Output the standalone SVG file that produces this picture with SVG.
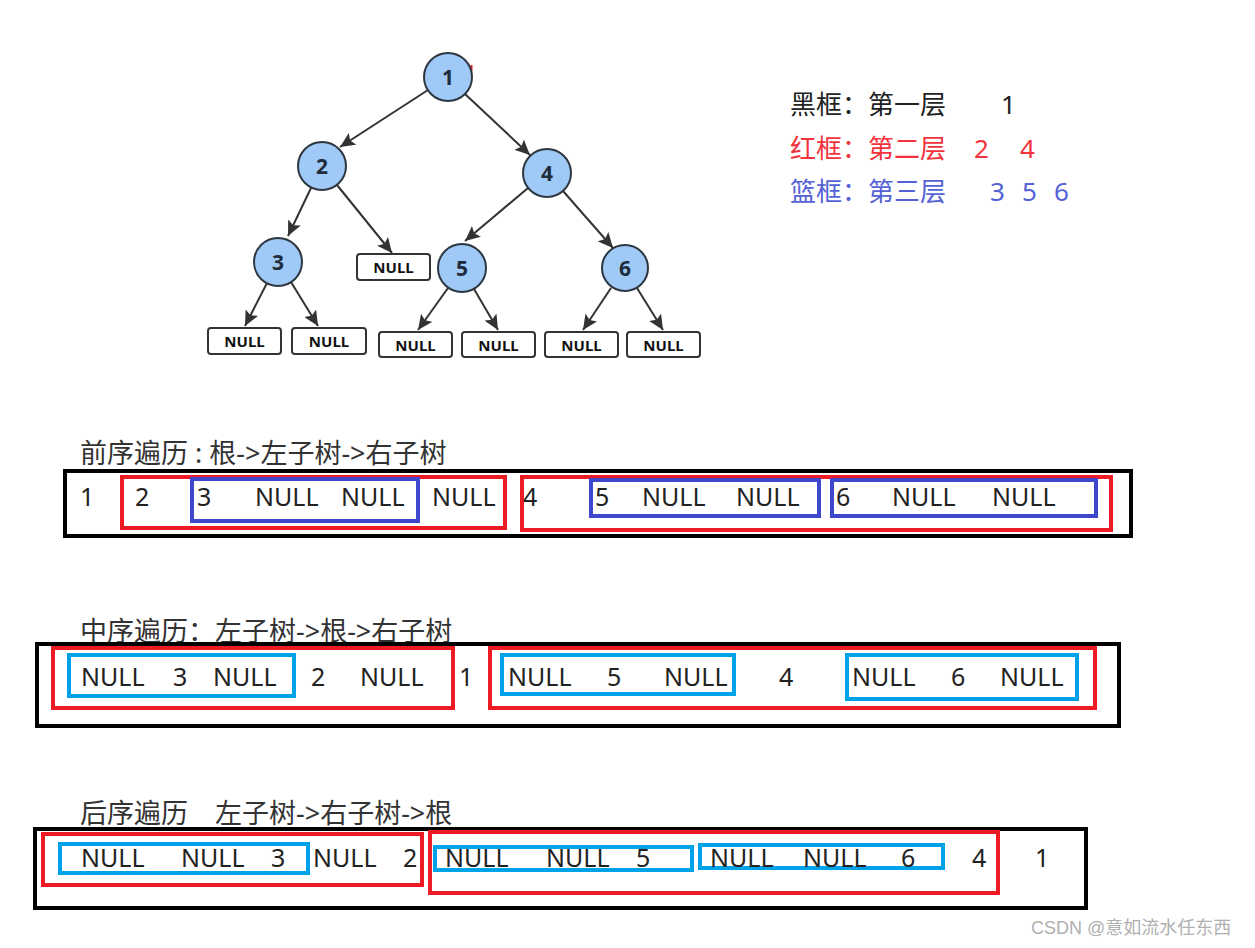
<svg xmlns="http://www.w3.org/2000/svg" width="1255" height="948" viewBox="0 0 1255 948">
<defs>
<marker id="arr" markerUnits="userSpaceOnUse" markerWidth="16" markerHeight="14" refX="15" refY="7" orient="auto">
<path d="M0,0 L15,7 L0,14 L3,7 z" fill="#333"/>
</marker>
<style>
.edge{stroke:#333;stroke-width:2;fill:none;marker-end:url(#arr)}
.circ{fill:#9fcaf7;stroke:#2e3640;stroke-width:2}
.nl{font-family:"Noto Sans","DejaVu Sans",sans-serif;font-weight:bold;font-size:21px;fill:#1e2c3c;text-anchor:middle}
.nbox{fill:#fff;stroke:#333;stroke-width:2}
.nt{font-family:"Noto Sans","DejaVu Sans",sans-serif;font-weight:bold;font-size:15px;fill:#111;text-anchor:middle}
.lg{font-family:"Noto Sans","Noto Sans CJK SC",sans-serif;font-size:26px}
.tt{font-family:"Noto Sans","Noto Sans CJK SC",sans-serif;font-size:27px;fill:#333}
.rt{font-family:"Noto Sans","Noto Sans CJK SC",sans-serif;font-size:25px;fill:#222}
.bk{fill:none;stroke:#000;stroke-width:4}
.rd{fill:none;stroke:#ed1c24;stroke-width:4}
.bl{fill:none;stroke:#3f48cc;stroke-width:4}
.cy{fill:none;stroke:#00a2e8;stroke-width:4}
</style>
</defs>
<rect width="1255" height="948" fill="#fff"/>

<g id="connectors">
<line class="edge" x1="428" y1="90" x2="340" y2="147"/>
<line class="edge" x1="465" y1="94" x2="530" y2="155"/>
<line class="edge" x1="311" y1="188" x2="288" y2="236"/>
<line class="edge" x1="337" y1="185" x2="392" y2="253"/>
<line class="edge" x1="528" y1="188" x2="465" y2="241"/>
<line class="edge" x1="563" y1="191" x2="613" y2="248"/>
<line class="edge" x1="267" y1="283" x2="245" y2="326"/>
<line class="edge" x1="291" y1="282" x2="318" y2="326"/>
<line class="edge" x1="448" y1="288" x2="418" y2="330"/>
<line class="edge" x1="474" y1="289" x2="498" y2="330"/>
<line class="edge" x1="611" y1="288" x2="583" y2="330"/>
<line class="edge" x1="637" y1="288" x2="663" y2="330"/>
</g>

<line x1="471.5" y1="65" x2="471.5" y2="71" stroke="#e02020" stroke-width="2"/>

<g id="node1"><circle class="circ" cx="448" cy="77" r="24"/><text class="nl" x="448" y="85">1</text></g>
<g id="node2"><circle class="circ" cx="322" cy="166" r="24"/><text class="nl" x="322" y="174">2</text></g>
<g id="node4"><circle class="circ" cx="547" cy="173" r="24"/><text class="nl" x="547" y="181">4</text></g>
<g id="node3"><circle class="circ" cx="278" cy="262" r="24"/><text class="nl" x="278" y="270">3</text></g>
<g id="node5"><circle class="circ" cx="462" cy="268" r="24"/><text class="nl" x="462" y="276">5</text></g>
<g id="node6"><circle class="circ" cx="625" cy="268" r="23"/><text class="nl" x="625" y="276">6</text></g>

<g id="null2r"><rect class="nbox" x="357" y="254" width="73" height="26" rx="3"/><text class="nt" x="393.5" y="272.5">NULL</text></g>
<g id="null3l"><rect class="nbox" x="208" y="328" width="73" height="26" rx="3"/><text class="nt" x="244.5" y="346.5">NULL</text></g>
<g id="null3r"><rect class="nbox" x="292" y="328" width="74" height="26" rx="3"/><text class="nt" x="329" y="346.5">NULL</text></g>
<g id="null5l"><rect class="nbox" x="379" y="332" width="73" height="25" rx="3"/><text class="nt" x="415.5" y="350.5">NULL</text></g>
<g id="null5r"><rect class="nbox" x="462" y="332" width="73" height="25" rx="3"/><text class="nt" x="498.5" y="350.5">NULL</text></g>
<g id="null6l"><rect class="nbox" x="545" y="332" width="73" height="25" rx="3"/><text class="nt" x="581.5" y="350.5">NULL</text></g>
<g id="null6r"><rect class="nbox" x="627" y="332" width="73" height="25" rx="3"/><text class="nt" x="663.5" y="350.5">NULL</text></g>

<g id="legend">
<text class="lg" fill="#222" y="114"><tspan x="790">黑框：第一层</tspan><tspan x="1001">1</tspan></text>
<text class="lg" fill="#f2333d" y="158"><tspan x="790">红框：第二层</tspan><tspan x="974">2</tspan><tspan x="1020">4</tspan></text>
<text class="lg" fill="#5462d6" y="201"><tspan x="790">篮框：第三层</tspan><tspan x="990">3</tspan><tspan x="1022">5</tspan><tspan x="1054">6</tspan></text>
</g>

<g id="preorder">
<text class="tt" x="80" y="463">前序遍历 : 根-&gt;左子树-&gt;右子树</text>
<rect class="bk" x="65" y="471" width="1066" height="65"/>
<rect class="rd" x="122" y="477" width="383" height="51"/>
<rect class="bl" x="192" y="479" width="226" height="42"/>
<rect class="rd" x="522" y="477" width="589" height="53"/>
<rect class="bl" x="591" y="480" width="228" height="36"/>
<rect class="bl" x="832" y="480" width="264" height="36"/>
<text class="rt" y="506"><tspan x="80">1</tspan><tspan x="135">2</tspan><tspan x="197">3</tspan><tspan x="255">NULL</tspan><tspan x="341">NULL</tspan><tspan x="432">NULL</tspan><tspan x="523">4</tspan><tspan x="595">5</tspan><tspan x="642">NULL</tspan><tspan x="736">NULL</tspan><tspan x="836">6</tspan><tspan x="892">NULL</tspan><tspan x="992">NULL</tspan></text>
</g>

<g id="inorder">
<text class="tt" x="80" y="641">中序遍历：左子树-&gt;根-&gt;右子树</text>
<rect class="bk" x="37" y="644" width="1082" height="82"/>
<rect class="rd" x="53" y="648" width="400" height="60"/>
<rect class="cy" x="69" y="655" width="225" height="41"/>
<rect class="rd" x="490" y="648" width="605" height="60"/>
<rect class="cy" x="502" y="655" width="232" height="39"/>
<rect class="cy" x="847" y="655" width="230" height="44"/>
<text class="rt" y="686"><tspan x="81">NULL</tspan><tspan x="173">3</tspan><tspan x="213">NULL</tspan><tspan x="311">2</tspan><tspan x="360">NULL</tspan><tspan x="459">1</tspan><tspan x="508">NULL</tspan><tspan x="607">5</tspan><tspan x="664">NULL</tspan><tspan x="779">4</tspan><tspan x="852">NULL</tspan><tspan x="951">6</tspan><tspan x="1000">NULL</tspan></text>
</g>

<g id="postorder">
<text class="tt" x="80" y="823">后序遍历　左子树-&gt;右子树-&gt;根</text>
<rect class="bk" x="35" y="829" width="1051" height="79"/>
<rect class="rd" x="43" y="834" width="379" height="51"/>
<rect class="cy" x="60" y="844" width="248" height="29"/>
<rect class="rd" x="430" y="832" width="568" height="61"/>
<rect class="cy" x="435" y="847" width="257" height="23"/>
<rect class="cy" x="700" y="845" width="243" height="23"/>
<text class="rt" y="867"><tspan x="81">NULL</tspan><tspan x="181">NULL</tspan><tspan x="271">3</tspan><tspan x="313">NULL</tspan><tspan x="403">2</tspan><tspan x="445">NULL</tspan><tspan x="546">NULL</tspan><tspan x="636">5</tspan><tspan x="710">NULL</tspan><tspan x="803">NULL</tspan><tspan x="901">6</tspan><tspan x="972">4</tspan><tspan x="1035">1</tspan></text>
</g>

<text x="1031" y="934" font-family="'Liberation Sans','Noto Sans CJK SC',sans-serif" font-size="18" fill="#b0b0b0">CSDN @意如流水任东西</text>
</svg>
